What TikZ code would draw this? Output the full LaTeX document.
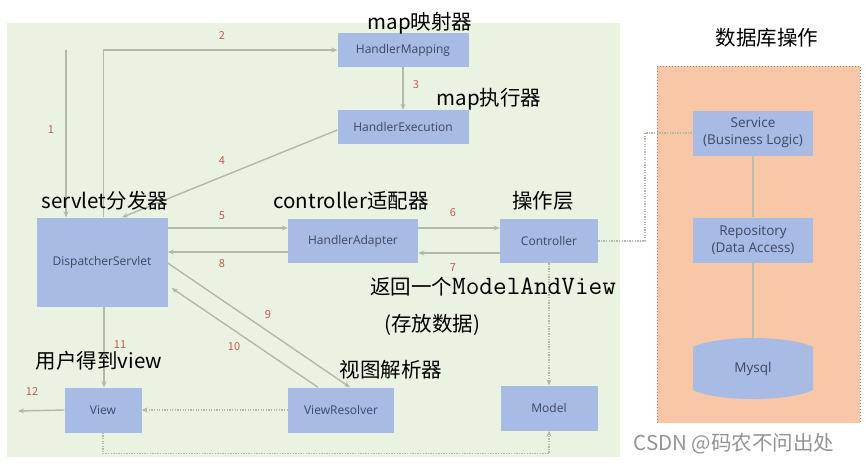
\documentclass[tikz,border=0pt]{standalone}
\usepackage{fontspec}
\setmainfont{Noto Sans CJK SC}
\newfontfamily\boxfont{Open Sans}
\usetikzlibrary{arrows.meta, calc}

\definecolor{bgGreen}{RGB}{234,242,225}
\definecolor{dbOrange}{RGB}{248,199,167}
\definecolor{dbBorder}{RGB}{170,120,120}
\definecolor{boxBlue}{RGB}{168,187,229}
\definecolor{boxText}{RGB}{60,72,100}
\definecolor{flowGray}{RGB}{176,186,170}
\definecolor{numRed}{RGB}{196,92,80}

\begin{document}
\begin{tikzpicture}[x=1pt, y=-1pt, >={Stealth[length=6pt, width=5pt]},
  every node/.style={inner sep=0pt},
  comp/.style={fill=boxBlue, text=boxText, align=center, minimum height=45pt, font=\boxfont\fontsize{12}{14}\selectfont},
  dbcomp/.style={comp, font=\boxfont\fontsize{13.5}{17}\selectfont},
  flow/.style={draw=flowGray, line width=1.4pt, ->},
  dots/.style={draw=flowGray, line width=1.5pt, dash pattern=on 1.3pt off 1.3pt, ->},
  link/.style={draw=flowGray!80!dbOrange, line width=1.4pt},
  num/.style={text=numRed, font=\fontsize{11}{12}\selectfont},
  note/.style={text=black, font=\fontsize{20.5}{23}\selectfont}]
  \useasboundingbox (0,0) rectangle (865,466);
  % backgrounds
  \fill[bgGreen] (7,23) rectangle (620,457);
  \fill[dbOrange] (657,66) rectangle (860,423);
  \draw[dbBorder, line width=1pt, dotted] (657,423) -- (657,66) -- (860,66) -- (860,423);

  % components
  \node[comp, minimum width=131pt, minimum height=34pt] (mapping) at (403,50) {HandlerMapping};
  \node[comp, minimum width=131pt, minimum height=34pt] (execution) at (403,127) {HandlerExecution};
  \node[comp, minimum width=131pt, minimum height=89pt] (dispatcher) at (102,262) {DispatcherServlet};
  \node[comp, minimum width=130pt, minimum height=44pt] (adapter) at (353,241) {HandlerAdapter};
  \node[comp, minimum width=98pt, minimum height=44pt] (controller) at (549,241) {Controller};
  \node[comp, minimum width=97pt] (model) at (549,408) {Model};
  \node[comp, minimum width=77pt] (view) at (103,410) {View};
  \node[comp, minimum width=106pt] (resolver) at (341,410) {ViewResolver};
  \node[dbcomp, minimum width=120pt] (service) at (753,133) {Service\\(Business Logic)};
  \node[dbcomp, minimum width=120pt] (repository) at (753,240) {Repository\\(Data Access)};
  \fill[boxBlue] (693,347) .. controls (718,335) and (788,335) .. (813,347) -- (813,390) .. controls (788,402) and (718,402) .. (693,390) -- cycle;
  \node[dbcomp, fill=none, minimum width=120pt, minimum height=58pt] (mysql) at (753,369) {Mysql};

  % request flow
  \coordinate (entry) at (66,50);
  \coordinate (exit) at (18,411);
  \draw[flow] (entry) -- (entry |- dispatcher.north);
  \draw[flow] ($(dispatcher.north west)+(67,0)$) |- (mapping.west);
  \draw[flow] (mapping) -- (execution);
  \draw[flow] ($(execution.west)+(0,3)$) -- ($(dispatcher.north)+(20,0)$);
  \draw[flow] ($(dispatcher.east)+(0,-34)$) -- ($(adapter.west)+(0,-13)$);
  \draw[flow] ($(adapter.east)+(0,-13)$) -- ($(controller.west)+(0,-13)$);
  \draw[flow] ($(controller.west)+(0,12)$) -- ($(adapter.east)+(0,12)$);
  \draw[flow] ($(adapter.west)+(0,11)$) -- ($(dispatcher.east)+(0,-10)$);
  \draw[flow] ($(dispatcher.east)+(0,1)$) -- ($(resolver.north)+(9,0)$);
  \draw[flow] ($(resolver.north)+(-23,0)$) -- ($(dispatcher.east)+(4,26)$);
  \draw[flow] ($(dispatcher.south)+(2,0)$) -- ($(view.north)+(1,0)$);
  \draw[flow] (view.west) -- (exit);
  \draw[dots] (resolver.west) -- (view.east);
  \draw[dots] (controller) -- (model);
  \draw[dots] (view.south) -- ++(0,21) -| (model.south);
  \draw[dots, -] (controller.east) -| (645,133) -- (service.west);
  \draw[link] (service) -- (repository);
  \draw[link] (repository) -- (mysql.north);

  % step numbers
  \node[num] (n1) at (51,130) {1};
  \node[num] (n2) at (222,36) {2};
  \node[num] (n3) at (416,85) {3};
  \node[num] (n4) at (222,161) {4};
  \node[num] (n5) at (222,216) {5};
  \node[num] (n6) at (453,213) {6};
  \node[num] (n7) at (453,268) {7};
  \node[num] (n8) at (222,264) {8};
  \node[num] (n9) at (268,315) {9};
  \node[num] (n10) at (234,347) {10};
  \node[num] (n11) at (120,345) {11};
  \node[num] (n12) at (32,392) {12};

  % notes
  \node[note] (noteMapping) at (420,23) {map映射器};
  \node[note] (noteExecution) at (489,99) {map执行器};
  \node[note] (noteDb) at (767,38) {数据库操作};
  \node[note] (noteServlet) at (105,201) {servlet分发器};
  \node[note] (noteAdapter) at (351,201) {controller适配器};
  \node[note] (noteController) at (543,201) {操作层};
  \node[note, anchor=west] (noteReturn) at (370,287) {返回一个{\ttfamily\fontsize{26.5}{28}\selectfont ModelAndView}};
  \node[note] (noteData) at (432,325) {(存放数据)};
  \node[note] (noteUser) at (99,361) {用户得到view};
  \node[note] (noteResolver) at (391,370) {视图解析器};
  \node[text=black!42, font=\fontsize{20.5}{23}\selectfont] (mark) at (734,444) {CSDN @码农不问出处};
\end{tikzpicture}
\end{document}
